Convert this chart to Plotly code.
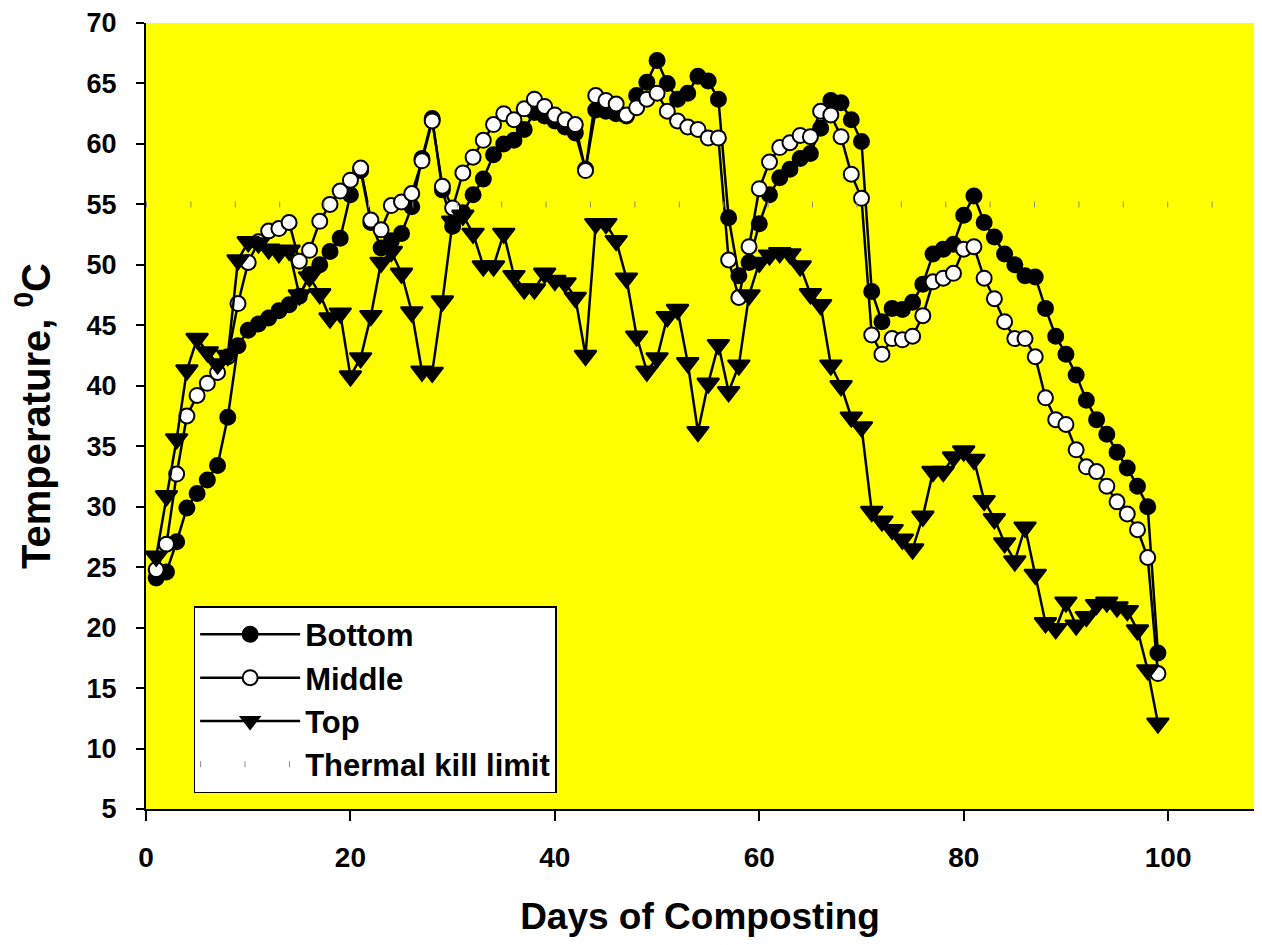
import plotly.graph_objects as go

days = list(range(1, 100))

bottom = [24.1, 24.6, 27.1, 29.9, 31.1, 32.2, 33.4, 37.4, 43.3, 44.6,
          45.1, 45.6, 46.2, 46.7, 47.4, 49.2, 50.0, 51.1, 52.2, 55.8,
          57.8, 53.5, 51.4, 52.0, 52.6, 54.8, 58.8, 62.1, 56.2, 53.2,
          54.3, 55.8, 57.1, 59.1, 60.0, 60.3, 61.2, 62.6, 62.3, 61.9,
          61.4, 60.9, 57.9, 62.8, 62.7, 62.5, 62.3, 64.0, 65.1, 66.9,
          65.0, 63.7, 64.2, 65.6, 65.2, 63.7, 53.9, 49.1, 50.2, 53.4,
          55.8, 57.2, 57.9, 58.8, 59.2, 61.3, 63.6, 63.4, 62.0, 60.2,
          47.8, 45.3, 46.4, 46.3, 46.9, 48.4, 50.9, 51.3, 51.7, 54.1,
          55.7, 53.5, 52.3, 50.9, 50.0, 49.1, 49.0, 46.4, 44.1, 42.6,
          40.9, 38.8, 37.2, 36.0, 34.5, 33.2, 31.7, 30.0, 17.9]

middle = [24.8, 26.9, 32.7, 37.5, 39.2, 40.2, 41.1, 42.4, 46.8, 50.2,
          51.9, 52.8, 53.0, 53.5, 50.3, 51.2, 53.6, 55.0, 56.1, 57.0,
          58.0, 53.7, 52.9, 54.9, 55.2, 55.9, 58.6, 61.9, 56.5, 54.7,
          57.6, 58.9, 60.3, 61.6, 62.5, 62.0, 62.9, 63.7, 63.1, 62.4,
          62.0, 61.6, 57.8, 64.0, 63.6, 63.3, 62.4, 63.0, 63.7, 64.2,
          62.7, 61.9, 61.4, 61.2, 60.5, 60.5, 50.4, 47.3, 51.5, 56.3,
          58.5, 59.7, 60.1, 60.7, 60.6, 62.7, 62.4, 60.6, 57.5, 55.5,
          44.2, 42.6, 43.9, 43.8, 44.1, 45.8, 48.6, 48.9, 49.3, 51.3,
          51.5, 48.9, 47.2, 45.3, 43.9, 43.9, 42.4, 39.0, 37.2, 36.8,
          34.7, 33.3, 32.9, 31.7, 30.4, 29.4, 28.1, 25.8, 16.2]

top = [25.9, 30.9, 35.6, 41.3, 43.9, 42.8, 41.8, 42.5, 50.4, 51.9,
       51.8, 51.3, 51.0, 51.2, 47.5, 49.0, 47.6, 45.6, 46.0, 40.8,
       42.3, 45.8, 50.2, 51.1, 49.3, 46.1, 41.2, 41.1, 47.0, 53.6,
       54.1, 52.6, 49.9, 49.9, 52.6, 49.1, 48.0, 48.0, 49.3, 48.7,
       48.5, 47.3, 42.5, 53.4, 53.4, 52.0, 48.9, 44.1, 41.2, 42.3,
       45.7, 46.3, 41.9, 36.2, 40.2, 43.4, 39.5, 41.7, 47.5, 50.2,
       50.8, 51.0, 50.9, 49.9, 47.6, 46.7, 41.7, 40.0, 37.4, 36.6,
       29.6, 28.8, 28.1, 27.3, 26.5, 29.2, 32.9, 32.9, 34.1, 34.6,
       33.9, 30.5, 29.0, 27.0, 25.5, 28.3, 24.4, 20.4, 19.9, 22.1,
       20.2, 20.9, 21.9, 22.1, 21.7, 21.4, 19.8, 16.5, 12.1]

kill_x = [0, 110]
kill_y = [55, 55]

x_ticks = [0, 20, 40, 60, 80, 100]
y_ticks = list(range(5, 71, 5))

FONT = "Liberation Sans, Arial, sans-serif"

fig = go.Figure()
fig.add_trace(go.Scatter(
    x=days, y=bottom, name="Bottom", mode="lines+markers",
    line=dict(color="black", width=2.5),
    marker=dict(symbol="circle", size=15, color="black",
                line=dict(color="black", width=2))))
fig.add_trace(go.Scatter(
    x=days, y=middle, name="Middle", mode="lines+markers",
    line=dict(color="black", width=2.5),
    marker=dict(symbol="circle", size=15, color="white",
                line=dict(color="black", width=2))))
fig.add_trace(go.Scatter(
    x=days, y=top, name="Top", mode="lines+markers",
    line=dict(color="black", width=2.5),
    marker=dict(symbol="triangle-down", size=19, color="black",
                line=dict(color="black", width=2))))
fig.add_trace(go.Scatter(
    x=kill_x, y=kill_y, name="Thermal kill limit", mode="lines",
    line=dict(color="#8c8c80", width=6, dash="1px,43.4px")))

fig.update_layout(
    width=1246, height=929,
    margin=dict(l=138, r=0, t=12, b=128),
    paper_bgcolor="white",
    plot_bgcolor="#ffff00",
    font=dict(family=FONT, color="black", size=28, weight="bold"),
    showlegend=True,
    legend=dict(
        x=0.043, y=0.258, xanchor="left", yanchor="top",
        bgcolor="white", bordercolor="black", borderwidth=1.5,
        font=dict(family=FONT, size=31, color="black", weight="bold"),
        itemwidth=100, tracegroupgap=0,
    ),
    xaxis=dict(
        range=[0, 108.4], tickvals=x_ticks, ticks="outside", ticklen=10,
        tickwidth=2, tickcolor="black", showline=True, linecolor="black",
        linewidth=2, showgrid=False, zeroline=False,
        ticklabelstandoff=12,
        tickfont=dict(family=FONT, size=28, weight="bold"),
        title=dict(text="Days of Composting", standoff=36,
                   font=dict(family=FONT, size=37, weight="bold")),
    ),
    yaxis=dict(
        range=[5, 70], tickvals=y_ticks, ticks="outside", ticklen=8,
        tickwidth=2, tickcolor="black", showline=True, linecolor="black",
        linewidth=2, showgrid=False, zeroline=False,
        ticklabelstandoff=14, ticklabeloverflow="allow",
        tickfont=dict(family=FONT, size=27, weight="bold"),
        title=dict(text="Temperature, <sup>0</sup>C", standoff=24,
                   font=dict(family=FONT, size=40, weight="bold")),
    ),
)
for i, tr in enumerate(fig.data):
    tr.legendgroup = str(i)

fig.write_html("out.html")
